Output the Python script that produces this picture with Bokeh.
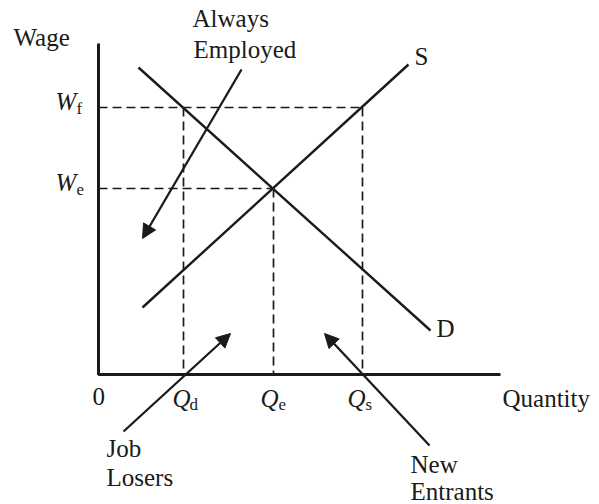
from bokeh.plotting import figure
from bokeh.models import Arrow, NormalHead, ColumnDataSource, Range1d
from bokeh.core.properties import value
from bokeh.embed import file_html
from bokeh.resources import INLINE

# ---- chart values (economic units) ----
q_axis_max = 40.2
w_axis_max = 33.1
demand_q = [4.0, 33.2]
demand_w = [30.7, 4.4]
supply_q = [4.4, 31.0]
supply_w = [6.7, 31.0]
q_d, q_e, q_s = 8.5, 17.5, 26.4
w_e, w_f = 18.6, 26.7
# annotation arrows: (start q, start w) -> (tip q, tip w)
arrow_labels = ["Always Employed", "Job Losers", "New Entrants"]
arrow_q0 = [14.3, 2.5, 33.1]
arrow_w0 = [30.5, -5.7, -7.1]
arrow_q1 = [4.4, 13.2, 22.6]
arrow_w1 = [13.6, 4.1, 4.1]

FONT = value("Liberation Serif")
BIG = "25px"
SUB = "17px"
TEXT_SHIFT = 0.9  # compensates the renderer's baseline placement

p = figure(width=599, height=504, output_backend="svg", toolbar_location=None,
           x_range=Range1d(-9.8, 50.1), y_range=Range1d(-13.0, 37.4),
           min_border=0)
p.axis.visible = False
p.grid.visible = False
p.outline_line_color = None
p.background_fill_color = "white"

ink = "#1a1a1a"

# axes
p.line([0, 0, q_axis_max], [w_axis_max, 0, 0], line_color=ink, line_width=3)

# dashed guide lines
guides = ColumnDataSource(dict(
    x0=[0, 0, q_d, q_e, q_s],
    y0=[w_f, w_e, w_f, w_e, w_f],
    x1=[q_s, q_e, q_d, q_e, q_s],
    y1=[w_f, w_e, 0, 0, 0],
))
p.segment("x0", "y0", "x1", "y1", source=guides, line_color=ink,
          line_width=1.7, line_dash="9 5")

# demand & supply
p.line(demand_q, demand_w, line_color=ink, line_width=2.4)
p.line(supply_q, supply_w, line_color=ink, line_width=2.4)

# arrows
for q0, w0, q1, w1 in zip(arrow_q0, arrow_w0, arrow_q1, arrow_w1):
    p.add_layout(Arrow(x_start=q0, y_start=w0, x_end=q1, y_end=w1,
                       line_color=ink, line_width=2.3,
                       end=NormalHead(size=14, fill_color=ink, line_color=ink,
                                      line_width=1)))


def txt(x, y, s, size=BIG, style="normal", align="left"):
    p.text(x=[x], y=[y + TEXT_SHIFT], text=[s], text_font=FONT,
           text_font_size=size, text_font_style=style, text_color=ink,
           text_align=align, text_baseline="alphabetic")


# plain labels
txt(-8.5, 32.8, "Wage")
txt(9.4, 34.7, "Always")
txt(9.5, 31.6, "Employed")
txt(31.6, 30.9, "S")
txt(33.8, 3.7, "D")
txt(-0.6, -3.1, "0")
txt(40.4, -3.3, "Quantity")
txt(0.8, -8.3, "Job")
txt(0.8, -11.2, "Losers")
txt(31.2, -9.9, "New")
txt(31.2, -12.6, "Entrants")

# wage tick labels
for w, sub in [(w_f, "f"), (w_e, "e")]:
    txt(-4.3, w - 0.25, "W", style="italic")
    txt(-2.2, w - 1.0, sub, size=SUB)

# quantity tick labels
for q, sub, dq, ds in [(q_d, "d", -1.1, 0.6), (q_e, "e", -1.3, 0.5), (q_s, "s", -1.5, 0.3)]:
    txt(q + dq, -3.3, "Q", style="italic")
    txt(q + ds, -3.9, sub, size=SUB)

open("out.html", "w").write(file_html(p, INLINE))
